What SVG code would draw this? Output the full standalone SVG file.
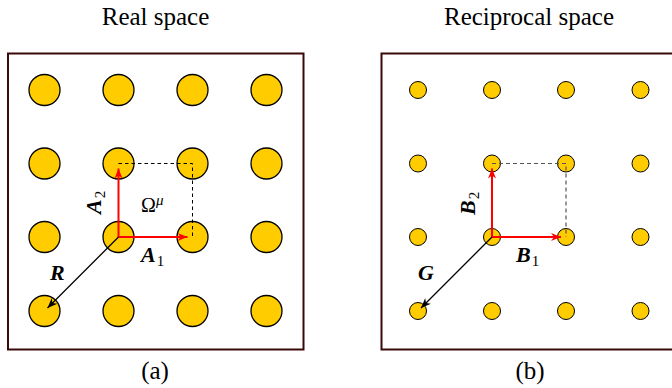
<svg xmlns="http://www.w3.org/2000/svg" width="672" height="388" viewBox="0 0 672 388">
<defs>
<style>
.t{font-family:"Liberation Serif","DejaVu Serif",serif;fill:#000}
.title{font-size:25px;text-anchor:middle}
.math{font-size:22px;font-weight:bold;font-style:italic}
.sub{font-size:15px;font-weight:normal;font-style:normal}
.frame{fill:#fff;stroke:#3a0808;stroke-width:2}
.big{fill:#ffcc00;stroke:#000;stroke-width:1.3}
.small{fill:#ffcc00;stroke:#000;stroke-width:1}
.red{stroke:#ff0000;stroke-width:2;fill:none}
.blk{stroke:#000;stroke-width:1.3;fill:none}
.dash{stroke:#000;stroke-width:1;stroke-dasharray:3.5 3;fill:none}
.dash2{stroke:#555;stroke-width:1.2;stroke-dasharray:4 3;fill:none}
</style>
<marker id="ar" markerUnits="userSpaceOnUse" viewBox="-11 -5 12 10" markerWidth="12" markerHeight="10" refX="0" refY="0" orient="auto"><path d="M0,0 L-10,-4 L-7,0 L-10,4 Z" fill="#ff0000"/></marker>
<marker id="ak" markerUnits="userSpaceOnUse" viewBox="-11 -5 12 10" markerWidth="12" markerHeight="10" refX="0" refY="0" orient="auto"><path d="M0,0 L-10,-4 L-7,0 L-10,4 Z" fill="#000"/></marker>
</defs>
<rect width="672" height="388" fill="#fff"/>

<g id="titles">
<text class="t title" x="155.5" y="25">Real space</text>
<text class="t title" x="529" y="25">Reciprocal space</text>
<text class="t title" x="155" y="379">(a)</text>
<text class="t title" x="530" y="379">(b)</text>
</g>

<g id="frame-a"><rect class="frame" x="8" y="53.5" width="295.5" height="296"/></g>
<g id="frame-b"><rect class="frame" x="381.5" y="53.5" width="300" height="296"/></g>

<g id="real-lattice">
<circle id="a11" class="big" cx="44.5" cy="90" r="15.5"/>
<circle id="a12" class="big" cx="118.5" cy="90" r="15.5"/>
<circle id="a13" class="big" cx="192.5" cy="90" r="15.5"/>
<circle id="a14" class="big" cx="266.5" cy="90" r="15.5"/>
<circle id="a21" class="big" cx="44.5" cy="163.5" r="15.5"/>
<circle id="a22" class="big" cx="118.5" cy="163.5" r="15.5"/>
<circle id="a23" class="big" cx="192.5" cy="163.5" r="15.5"/>
<circle id="a24" class="big" cx="266.5" cy="163.5" r="15.5"/>
<circle id="a31" class="big" cx="44.5" cy="237" r="15.5"/>
<circle id="a32" class="big" cx="118.5" cy="237" r="15.5"/>
<circle id="a33" class="big" cx="192.5" cy="237" r="15.5"/>
<circle id="a34" class="big" cx="266.5" cy="237" r="15.5"/>
<circle id="a41" class="big" cx="44.5" cy="311" r="15.5"/>
<circle id="a42" class="big" cx="118.5" cy="311" r="15.5"/>
<circle id="a43" class="big" cx="192.5" cy="311" r="15.5"/>
<circle id="a44" class="big" cx="266.5" cy="311" r="15.5"/>
</g>

<g id="recip-lattice">
<circle id="b11" class="small" cx="418" cy="90" r="8.5"/>
<circle id="b12" class="small" cx="492" cy="90" r="8.5"/>
<circle id="b13" class="small" cx="566" cy="90" r="8.5"/>
<circle id="b14" class="small" cx="640.5" cy="90" r="8.5"/>
<circle id="b21" class="small" cx="418" cy="163.5" r="8.5"/>
<circle id="b22" class="small" cx="492" cy="163.5" r="8.5"/>
<circle id="b23" class="small" cx="566" cy="163.5" r="8.5"/>
<circle id="b24" class="small" cx="640.5" cy="163.5" r="8.5"/>
<circle id="b31" class="small" cx="418" cy="237" r="8.5"/>
<circle id="b32" class="small" cx="492" cy="237" r="8.5"/>
<circle id="b33" class="small" cx="566" cy="237" r="8.5"/>
<circle id="b34" class="small" cx="640.5" cy="237" r="8.5"/>
<circle id="b41" class="small" cx="418" cy="311" r="8.5"/>
<circle id="b42" class="small" cx="492" cy="311" r="8.5"/>
<circle id="b43" class="small" cx="566" cy="311" r="8.5"/>
<circle id="b44" class="small" cx="640.5" cy="311" r="8.5"/>
</g>

<g id="connectors">
<path class="dash" d="M118.5,163.5 H192.5 V237"/>
<path class="dash2" d="M492,163.5 H566 V237"/>
<line class="red" x1="118.5" y1="237" x2="187.5" y2="237" marker-end="url(#ar)"/>
<line class="red" x1="118.5" y1="237" x2="118.5" y2="168.5" marker-end="url(#ar)"/>
<line class="blk" x1="118.5" y1="237" x2="47.5" y2="308" marker-end="url(#ak)"/>
<line class="red" x1="492" y1="237" x2="561" y2="237" marker-end="url(#ar)"/>
<line class="red" x1="492" y1="237" x2="492" y2="168.5" marker-end="url(#ar)"/>
<line class="blk" x1="492" y1="237" x2="421" y2="308" marker-end="url(#ak)"/>
</g>

<g id="labels">
<text class="t math" x="141" y="262">A<tspan class="sub" dx="1" dy="4">1</tspan></text>
<text class="t math" transform="translate(101,214) rotate(-90)">A<tspan class="sub" dx="1" dy="4">2</tspan></text>
<text class="t" x="141" y="212" font-size="20">Ω<tspan font-size="15" font-style="italic" dy="-7">μ</tspan></text>
<text class="t math" x="50" y="280">R</text>
<text class="t math" x="516" y="262">B<tspan class="sub" dx="1" dy="4">1</tspan></text>
<text class="t math" transform="translate(475,215) rotate(-90)">B<tspan class="sub" dx="1" dy="4">2</tspan></text>
<text class="t math" x="418" y="280">G</text>
</g>
</svg>
